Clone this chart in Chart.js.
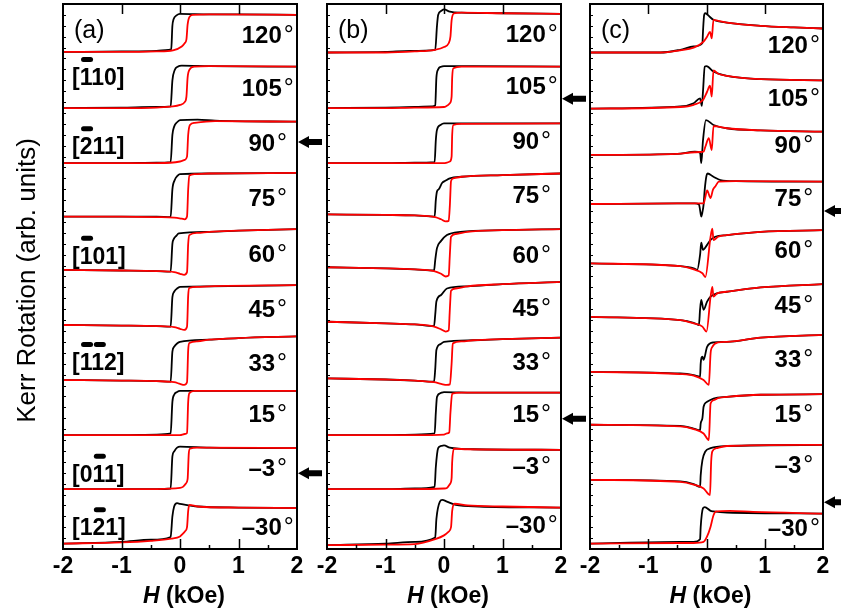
<!DOCTYPE html>
<html><head><meta charset="utf-8">
<script src="https://cdn.jsdelivr.net/npm/chart.js@4.4.0/dist/chart.umd.min.js"></script>
<style>
html,body{margin:0;padding:0;background:#fff;}
#wrap{position:relative;width:841px;height:612px;overflow:hidden;background:#fff;}
#wrap canvas{position:absolute;left:0;top:0;}
</style></head><body>
<div id="wrap">
<canvas id="ca" width="841" height="612"></canvas>
<canvas id="cb" width="841" height="612"></canvas>
<canvas id="cc" width="841" height="612"></canvas>
</div>
<script>
// ---------- data ----------
const ANGLES = ['120','105','90','75','60','45','33','15','\u20133','\u201330'];
const OFFSETS = [9,8,7,6,5,4,3,2,1,0];
const X_TICKS = [-2,-1,0,1,2];
const X_TICK_LABELS = ['-2','-1','0','1','2'];
const MAJOR_TICKS = [-1,0,1];
const MINOR_TICKS = [-1.5,-0.5,0.5,1.5];
const LABEL_X = 1.5;

const A_BLACK = [
 [[-2,.12],[-1,.13],[-.4,.14],[-.2,.16],[-.15,.17],[-.13,.6],[-.11,.72],[-.06,.79],[0,.82],[.5,.81],[1,.81],[2,.80]],
 [[-2,.09],[-1,.1],[-.4,.11],[-.16,.12],[-.13,.6],[-.09,.79],[-.04,.85],[.03,.87],[.5,.86],[2,.85]],
 [[-2,.08],[-1,.08],[-.4,.09],[-.16,.1],[-.13,.6],[-.1,.75],[-.05,.83],[0,.87],[.3,.88],[.6,.86],[2,.84]],
 [[-2,.1],[-1,.1],[-.4,.1],[-.16,.09],[-.13,.6],[-.09,.77],[-.04,.85],[0,.88],[.5,.89],[2,.9]],
 [[-2,.12],[-1,.11],[-.4,.1],[-.16,.09],[-.13,.6],[-.11,.68],[-.06,.75],[-.02,.79],[.5,.82],[1,.84],[2,.87]],
 [[-2,.11],[-1,.1],[-.4,.09],[-.16,.08],[-.13,.62],[-.1,.72],[-.05,.78],[0,.81],[.5,.82],[2,.84]],
 [[-2,.1],[-1,.09],[-.4,.08],[-.16,.07],[-.13,.62],[-.1,.71],[-.05,.77],[0,.8],[.5,.84],[1,.87],[2,.9]],
 [[-2,.09],[-1,.09],[-.4,.1],[-.16,.12],[-.13,.7],[-.1,.83],[-.05,.88],[0,.9],[2,.9]],
 [[-2,.1],[-1,.1],[-.4,.1],[-.16,.11],[-.13,.7],[-.1,.79],[-.05,.86],[0,.88],[.5,.86],[2,.85]],
 [[-2,.1],[-1,.13],[-.5,.17],[-.16,.22],[-.13,.6],[-.1,.78],[-.05,.84],[0,.83],[.3,.78],[1,.76],[2,.75]]
];
const A_RED = [
 [[-2,.12],[-1,.12],[-.4,.13],[-.12,.15],[.03,.22],[.08,.28],[.11,.35],[.13,.62],[.16,.76],[.22,.8],[.5,.81],[2,.8]],
 [[-2,.09],[-1,.09],[-.4,.1],[-.12,.12],[0,.15],[.08,.2],[.11,.3],[.13,.65],[.16,.79],[.25,.85],[.5,.86],[2,.85]],
 [[-2,.08],[-1,.08],[-.4,.08],[0,.11],[.08,.14],[.12,.2],[.14,.6],[.17,.78],[.25,.82],[.6,.85],[2,.84]],
 [[-2,.1],[-1,.1],[-.4,.09],[-.1,.08],[.03,.06],[.08,.05],[.12,.1],[.14,.6],[.16,.85],[.25,.88],[.5,.89],[2,.9]],
 [[-2,.12],[-1,.11],[-.4,.1],[-.1,.08],[0,.05],[.07,.03],[.12,.08],[.14,.6],[.16,.76],[.3,.8],[.5,.82],[1,.84],[2,.87]],
 [[-2,.11],[-1,.1],[-.4,.09],[-.1,.07],[0,.04],[.07,.02],[.12,.08],[.14,.65],[.16,.79],[.3,.81],[.5,.82],[2,.84]],
 [[-2,.1],[-1,.09],[-.4,.08],[-.1,.06],[0,.03],[.07,.01],[.12,.06],[.14,.65],[.16,.78],[.3,.81],[.5,.84],[1,.87],[2,.9]],
 [[-2,.09],[-1,.09],[-.4,.09],[0,.09],[.08,.11],[.12,.13],[.14,.7],[.16,.86],[.25,.9],[2,.9]],
 [[-2,.1],[-1,.1],[-.4,.1],[0,.12],[.05,.14],[.1,.2],[.13,.28],[.15,.75],[.17,.84],[.3,.86],[2,.85]],
 [[-2,.1],[-1,.12],[-.5,.15],[-.15,.19],[0,.23],[.05,.28],[.09,.33],[.12,.4],[.14,.7],[.16,.81],[.3,.78],[1,.76],[2,.75]]
];
const B_BLACK = [
 [[-2,.11],[-1,.12],[-.57,.14],[-.15,.16],[-.12,.6],[-.1,.8],[-.05,.87],[0,.9],[.1,.86],[.3,.84],[1,.83],[2,.82]],
 [[-2,.09],[-1,.1],[-.5,.11],[-.2,.12],[-.15,.14],[-.13,.65],[-.1,.8],[-.05,.85],[0,.86],[.5,.86],[2,.85]],
 [[-2,.08],[-1,.08],[-.5,.09],[-.16,.1],[-.14,.5],[-.12,.69],[-.06,.78],[0,.81],[.5,.81],[2,.81]],
 [[-2,.14],[-1,.13],[-.5,.12],[-.16,.1],[-.14,.4],[-.12,.56],[-.09,.6],[-.03,.72],[.03,.76],[.1,.8],[.3,.83],[1,.86],[2,.89]],
 [[-2,.17],[-1,.15],[-.5,.13],[-.17,.11],[-.15,.3],[-.12,.52],[-.06,.64],[.05,.76],[.28,.82],[1,.85],[2,.87]],
 [[-2,.17],[-1,.14],[-.5,.12],[-.17,.09],[-.15,.3],[-.13,.54],[-.05,.66],[.05,.78],[.4,.82],[1,.86],[2,.9]],
 [[-2,.13],[-1,.11],[-.5,.09],[-.17,.07],[-.15,.3],[-.13,.65],[-.06,.76],[0,.8],[.5,.83],[1,.85],[2,.88]],
 [[-2,.09],[-1,.09],[-.5,.1],[-.16,.12],[-.14,.5],[-.12,.79],[-.06,.86],[0,.88],[.5,.87],[2,.87]],
 [[-2,.1],[-1,.1],[-.5,.11],[-.16,.14],[-.14,.5],[-.1,.85],[-.05,.89],[0,.9],[.1,.86],[.5,.83],[2,.82]],
 [[-2,.07],[-1,.1],[-.5,.13],[-.15,.21],[-.13,.55],[-.07,.87],[-.03,.9],[.05,.87],[.2,.81],[.6,.78],[2,.76]]
];
const B_RED = [
 [[-2,.11],[-1,.11],[-.5,.13],[-.15,.16],[0,.21],[.08,.28],[.11,.4],[.13,.7],[.17,.83],[.3,.84],[1,.83],[2,.82]],
 [[-2,.09],[-1,.09],[-.5,.1],[0,.11],[.03,.12],[.1,.18],[.13,.3],[.14,.65],[.16,.82],[.3,.85],[2,.85]],
 [[-2,.08],[-1,.08],[-.5,.08],[0,.08],[.05,.09],[.1,.11],[.13,.2],[.14,.6],[.16,.78],[.3,.8],[2,.81]],
 [[-2,.14],[-1,.13],[-.5,.12],[-.15,.09],[-.05,.05],[.03,.01],[.08,.02],[.1,.3],[.12,.75],[.16,.8],[.3,.83],[1,.86],[2,.89]],
 [[-2,.17],[-1,.15],[-.5,.13],[-.17,.1],[-.05,.05],[.03,0],[.08,.02],[.1,.4],[.12,.73],[.2,.78],[.4,.82],[1,.85],[2,.87]],
 [[-2,.17],[-1,.14],[-.5,.12],[-.17,.08],[-.05,.03],[.03,-.01],[.08,.01],[.1,.4],[.12,.74],[.2,.78],[.4,.82],[1,.86],[2,.9]],
 [[-2,.13],[-1,.11],[-.5,.09],[-.17,.06],[-.05,.03],[.05,.01],[.1,.02],[.13,.4],[.15,.77],[.3,.81],[.5,.83],[1,.85],[2,.88]],
 [[-2,.09],[-1,.09],[-.5,.09],[0,.1],[.05,.12],[.09,.14],[.11,.5],[.14,.85],[.3,.87],[2,.87]],
 [[-2,.1],[-1,.1],[-.5,.1],[0,.11],[.05,.12],[.1,.19],[.13,.3],[.14,.6],[.17,.84],[.4,.83],[2,.82]],
 [[-2,.07],[-1,.08],[-.5,.09],[-.15,.18],[0,.25],[.08,.32],[.12,.4],[.14,.7],[.18,.83],[.4,.8],[1,.78],[2,.76]]
];
const C_BLACK = [
 [[-2,.11],[-.79,.11],[-.45,.16],[-.22,.22],[-.07,.28],[-.06,.5],[-.04,.8],[-.02,.83],[.05,.77],[.12,.71],[.35,.66],[.93,.6],[1.5,.57],[2,.55]],
 [[-2,.08],[-.45,.12],[-.22,.18],[-.11,.27],[-.08,.13],[-.06,.4],[-.03,.85],[0,.86],[.12,.76],[.35,.68],[.93,.62],[2,.6]],
 [[-2,.23],[-.5,.25],[-.2,.29],[-.11,.27],[-.09,.08],[-.06,.5],[-.01,.87],[.12,.78],[.35,.72],[.93,.68],[2,.66]],
 [[-2,.33],[-.5,.34],[-.2,.34],[-.13,.32],[-.1,.15],[-.09,.1],[-.07,.18],[-.05,.32],[-.03,.6],[0,.85],[.02,.89],[.12,.83],[.24,.77],[.5,.75],[2,.74]],
 [[-2,.24],[-.45,.19],[-.22,.15],[-.16,.12],[-.11,.4],[-.09,.62],[-.06,.49],[.01,.58],[.07,.67],[.15,.73],[.35,.76],[.93,.82],[2,.85]],
 [[-2,.26],[-.45,.2],[-.22,.15],[-.13,.11],[-.11,.4],[-.09,.57],[-.05,.39],[.01,.54],[.07,.63],[.18,.69],[.35,.72],[.93,.8],[2,.86]],
 [[-2,.25],[-.45,.22],[-.22,.19],[-.11,.16],[-.1,.4],[-.07,.53],[-.05,.47],[.01,.71],[.12,.79],[.35,.8],[.93,.88],[2,.93]],
 [[-2,.28],[-.45,.26],[-.22,.21],[-.11,.18],[-.1,.3],[-.07,.4],[-.05,.61],[.01,.7],[.12,.76],[.35,.79],[.93,.83],[2,.84]],
 [[-2,.27],[-.45,.24],[-.22,.19],[-.11,.14],[-.1,.35],[-.07,.63],[-.02,.79],[.07,.85],[.35,.89],[2,.91]],
 [[-2,.1],[-.45,.13],[-.22,.13],[-.11,.18],[-.1,.4],[-.06,.75],[-.03,.77],[.07,.7],[.12,.69],[.35,.67],[2,.65]]
];
const C_RED = [
 [[-2,.11],[-.79,.11],[-.45,.15],[-.22,.2],[-.05,.31],[.01,.4],[.06,.49],[.09,.37],[.12,.71],[.2,.69],[.35,.66],[.93,.6],[1.5,.57],[2,.55]],
 [[-2,.08],[-.45,.11],[-.22,.15],[-.06,.24],[.01,.39],[.06,.5],[.09,.3],[.12,.78],[.2,.72],[.35,.68],[.93,.62],[2,.6]],
 [[-2,.23],[-.5,.25],[-.2,.28],[-.05,.29],[-.02,.38],[.04,.54],[.09,.32],[.12,.76],[.2,.75],[.35,.72],[.93,.68],[2,.66]],
 [[-2,.33],[-.5,.34],[-.2,.34],[-.05,.34],[-.02,.46],[.01,.58],[.07,.44],[.11,.59],[.15,.65],[.21,.74],[.5,.75],[2,.74]],
 [[-2,.24],[-.45,.19],[-.22,.13],[-.07,.06],[-.02,-.01],[.07,.73],[.1,.88],[.12,.67],[.2,.73],[.35,.76],[.93,.82],[2,.85]],
 [[-2,.26],[-.45,.2],[-.22,.14],[-.07,.08],[0,-.01],[.07,.63],[.1,.81],[.12,.63],[.18,.69],[.35,.72],[.93,.8],[2,.86]],
 [[-2,.25],[-.45,.21],[-.22,.18],[-.05,.1],[.04,.01],[.07,.59],[.1,.71],[.2,.79],[.35,.8],[.93,.88],[2,.93]],
 [[-2,.28],[-.45,.25],[-.22,.2],[-.05,.12],[.04,0],[.07,.67],[.12,.73],[.2,.77],[.35,.79],[.93,.83],[2,.84]],
 [[-2,.27],[-.45,.23],[-.22,.18],[-.05,.11],[.06,-.01],[.08,.6],[.1,.79],[.17,.85],[.35,.89],[2,.91]],
 [[-2,.1],[-.45,.11],[-.22,.11],[-.05,.13],[.01,.23],[.07,.41],[.12,.62],[.17,.69],[.4,.7],[.8,.68],[2,.65]]
];

const A_LABEL_Y = [9.45,8.47,7.46,6.46,5.43,4.42,3.43,2.48,1.49,0.42];
const B_LABEL_Y = [9.46,8.5,7.49,6.51,5.41,4.43,3.45,2.49,1.54,0.46];
const C_LABEL_Y = [9.26,8.28,7.43,6.46,5.5,4.48,3.49,2.49,1.55,0.39];

const A_ARROWS = [7.47,1.39];
const B_ARROWS = [8.26,2.39];
const C_ARROWS = [6.20,0.86];

const BRACKET_TEXT = ['[110]','[211]','[101]','[112]','[011]','[121]'];
const BRACKET_BARS = [[1],[1],[1],[1,2],[2],[2]];
const BRACKET_Y = [8.66,7.39,5.38,3.43,1.38,0.40];

const PANEL_LETTERS = ['(a)','(b)','(c)'];
const Y_TITLE = 'Kerr Rotation (arb. units)';
const X_TITLE_ITALIC = 'H';
const X_TITLE_REST = ' (kOe)';

// ---------- drawing ----------
const FONT = '"Liberation Sans", Arial, Helvetica, sans-serif';

const deco = {
  id: 'deco',
  afterDraw(chart, args, o) {
    const ctx = chart.ctx, a = chart.chartArea, xs = chart.scales.x, ys = chart.scales.y;
    ctx.save();
    ctx.strokeStyle = '#000'; ctx.fillStyle = '#000';
    // frame
    ctx.lineWidth = 2;
    ctx.strokeRect(a.left, a.top, a.right - a.left, a.bottom - a.top);
    // ticks
    ctx.lineWidth = 1.5;
    ctx.beginPath();
    MAJOR_TICKS.forEach(v => {
      const x = Math.round(xs.getPixelForValue(v)) + 0.5;
      ctx.moveTo(x, a.bottom); ctx.lineTo(x, a.bottom - 10);
      ctx.moveTo(x, a.top); ctx.lineTo(x, a.top + 10);
    });
    MINOR_TICKS.forEach(v => {
      const x = Math.round(xs.getPixelForValue(v)) + 0.5;
      ctx.moveTo(x, a.bottom); ctx.lineTo(x, a.bottom - 4);
    });
    ctx.stroke();
    ctx.lineWidth = 1;
    ctx.beginPath();
    for (let v = ys.min; v <= ys.max + 1e-9; v += 0.2) {
      const y = Math.round(ys.getPixelForValue(v)) + 0.5;
      ctx.moveTo(a.left, y); ctx.lineTo(a.left + 3, y);
    }
    ctx.stroke();

    // panel letter
    ctx.textAlign = 'left'; ctx.textBaseline = 'alphabetic';
    ctx.font = '25px ' + FONT;
    ctx.fillText(o.letter, a.left + 11, a.top + 34);

    // angle labels
    o.labelY.forEach((yv, i) => {
      const y = ys.getPixelForValue(yv) + 0.358 * 24;
      const xc = xs.getPixelForValue(LABEL_X);
      ctx.font = 'bold 24px ' + FONT;
      const w1 = ctx.measureText(ANGLES[i]).width;
      ctx.font = '25px ' + FONT;
      const w2 = ctx.measureText('\u00b0').width;
      const x0 = xc - (w1 + 2 + w2) / 2;
      ctx.font = 'bold 24px ' + FONT;
      ctx.fillText(ANGLES[i], x0, y);
      ctx.font = '25px ' + FONT;
      ctx.fillText('\u00b0', x0 + w1 + 2, y);
    });

    // Miller-index labels
    if (o.brackets) {
      ctx.font = 'bold 23px ' + FONT;
      BRACKET_TEXT.forEach((t, i) => {
        const yc = ys.getPixelForValue(BRACKET_Y[i]);
        const x = a.left + 9;
        ctx.fillText(t, x, yc + 0.358 * 23);
        BRACKET_BARS[i].forEach(ci => {
          const pre = ctx.measureText(t.slice(0, ci)).width;
          const cw = ctx.measureText(t[ci]).width;
          const cx = x + pre + cw / 2 + 1;
          ctx.lineWidth = 5; ctx.lineCap = 'round';
          ctx.beginPath();
          ctx.moveTo(cx - 3.5, yc - 17.5); ctx.lineTo(cx + 3.5, yc - 17.5);
          ctx.stroke();
        });
      });
      ctx.lineCap = 'butt';
    }

    // arrows
    o.arrows.forEach(yv => {
      const y = ys.getPixelForValue(yv);
      const tip = a.right + 1;
      ctx.beginPath();
      ctx.moveTo(tip, y);
      ctx.lineTo(tip + 11, y - 6);
      ctx.lineTo(tip + 11, y - 3);
      ctx.lineTo(tip + 24, y - 3);
      ctx.lineTo(tip + 24, y + 3);
      ctx.lineTo(tip + 11, y + 3);
      ctx.lineTo(tip + 11, y + 6);
      ctx.closePath();
      ctx.fill();
    });

    // x title
    ctx.font = 'bold italic 23px ' + FONT;
    const wH = ctx.measureText(X_TITLE_ITALIC).width;
    ctx.font = 'bold 23px ' + FONT;
    const wR = ctx.measureText(X_TITLE_REST).width;
    const cx = (a.left + a.right) / 2 + 4;
    const x0 = cx - (wH + wR) / 2;
    ctx.font = 'bold italic 23px ' + FONT;
    ctx.fillText(X_TITLE_ITALIC, x0, 603);
    ctx.font = 'bold 23px ' + FONT;
    ctx.fillText(X_TITLE_REST, x0 + wH, 603);

    // y title
    if (o.yTitle) {
      ctx.save();
      ctx.translate(a.left - 28, (a.top + a.bottom) / 2 + 4);
      ctx.rotate(-Math.PI / 2);
      ctx.textAlign = 'center';
      ctx.font = '26px ' + FONT;
      ctx.fillText(Y_TITLE, 0, 0);
      ctx.restore();
    }
    ctx.restore();
  }
};

function buildSets(black, red) {
  const sets = [];
  const mk = (curve, i, color) => ({
    data: curve.map(p => ({ x: p[0], y: p[1] + OFFSETS[i] })),
    borderColor: color, borderWidth: 1.8, pointRadius: 0,
    fill: false, cubicInterpolationMode: 'monotone'
  });
  red.forEach((c, i) => sets.push(mk(c, i, '#ff0000')));
  black.forEach((c, i) => sets.push(mk(c, i, '#000000')));
  return sets;
}

function makeChart(id, left, right, black, red, extra) {
  return new Chart(document.getElementById(id), {
    type: 'line',
    data: { datasets: buildSets(black, red) },
    options: {
      responsive: false, animation: false, events: [],
      layout: { padding: { left: left, right: 841 - right, top: 4, bottom: 0 } },
      scales: {
        x: {
          type: 'linear', min: -2, max: 2, position: 'bottom',
          afterFit: s => { s.height = 63; },
          grid: { display: false, drawTicks: false }, border: { display: false },
          ticks: {
            stepSize: 1, autoSkip: false, maxRotation: 0, padding: 4, color: '#000',
            font: { family: FONT, size: 23, weight: 'bold' },
            callback: v => { const i = X_TICKS.indexOf(v); return i >= 0 ? X_TICK_LABELS[i] : ''; }
          }
        },
        y: { type: 'linear', min: 0, max: 10, display: false }
      },
      plugins: { legend: { display: false }, tooltip: { enabled: false }, deco: extra }
    },
    plugins: [deco]
  });
}

makeChart('ca', 63, 297, A_BLACK, A_RED,
  { letter: PANEL_LETTERS[0], labelY: A_LABEL_Y, arrows: A_ARROWS, brackets: true, yTitle: true });
makeChart('cb', 327, 561, B_BLACK, B_RED,
  { letter: PANEL_LETTERS[1], labelY: B_LABEL_Y, arrows: B_ARROWS, brackets: false, yTitle: false });
makeChart('cc', 590, 823, C_BLACK, C_RED,
  { letter: PANEL_LETTERS[2], labelY: C_LABEL_Y, arrows: C_ARROWS, brackets: false, yTitle: false });
</script></body></html>
